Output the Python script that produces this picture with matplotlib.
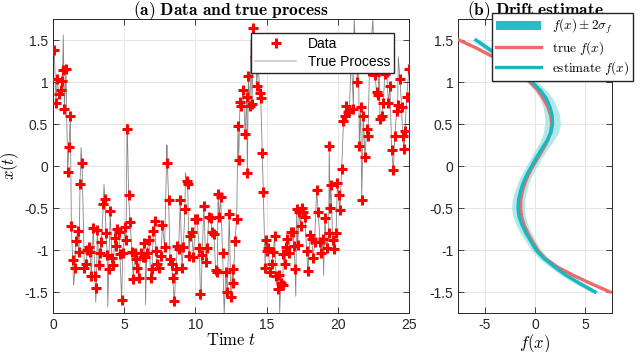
import matplotlib
matplotlib.use('Agg')
import numpy as np
import matplotlib.pyplot as plt
from matplotlib.patches import Patch
from matplotlib.lines import Line2D

# observed data (time, state)
data_t = [0.09, 0.21, 0.30, 0.40, 0.56, 0.63, 0.68, 0.80, 0.91, 1.03, 1.12, 1.22, 1.29, 1.38, 1.55,
          1.60, 1.76, 1.83, 1.90, 2.04, 2.20, 2.32, 2.41, 2.55, 2.60, 2.69, 2.83, 2.95, 3.05, 3.11,
          3.23, 3.30, 3.40, 3.54, 3.65, 3.72, 3.81, 3.91, 4.02, 4.14, 4.24, 4.33, 4.42, 4.52, 4.61,
          4.70, 4.82, 4.90, 5.06, 5.13, 5.22, 5.31, 5.41, 5.55, 5.64, 5.76, 5.83, 5.92, 6.04, 6.15,
          6.30, 6.39, 6.48, 6.58, 6.74, 6.86, 6.95, 7.05, 7.14, 7.24, 7.33, 7.42, 7.58, 7.68, 7.84,
          8.03, 8.12, 8.22, 8.33, 8.40, 8.52, 8.64, 8.73, 8.82, 8.94, 9.06, 9.15, 9.27, 9.39, 9.46,
          9.55, 9.62, 9.74, 9.86, 10.00, 10.10, 10.28, 10.35, 10.47, 10.60, 10.72, 10.84, 10.93, 11.07, 11.19,
          11.30, 11.42, 11.54, 11.59, 11.68, 11.77, 11.91, 12.15, 12.24, 12.38, 12.48, 12.62, 12.66, 12.78, 12.90,
          12.99, 13.04, 13.13, 13.23, 13.37, 13.49, 13.60, 13.65, 13.72, 13.84, 13.98, 14.07, 14.19, 14.30, 14.40,
          14.54, 14.59, 14.70, 14.77, 14.90, 14.94, 15.01, 15.12, 15.24, 15.36, 15.47, 15.57, 15.66, 15.78, 15.87,
          15.99, 16.13, 16.18, 16.29, 16.36, 16.46, 16.55, 16.70, 16.84, 16.93, 17.00, 17.11, 17.18, 17.30, 17.39,
          17.49, 17.58, 17.70, 17.81, 17.91, 18.05, 18.16, 18.28, 18.37, 18.51, 18.63, 18.75, 18.84, 18.98, 19.10,
          19.22, 19.36, 19.40, 19.45, 19.52, 19.64, 19.76, 19.88, 19.97, 20.06, 20.15, 20.27, 20.40, 20.51, 20.58,
          20.70, 20.81, 21.10, 21.37, 21.51, 21.61, 21.68, 21.79, 21.91, 22.03, 22.12, 22.22, 22.61, 22.73, 22.85,
          22.96, 23.08, 23.20, 23.30, 23.44, 23.55, 23.67, 23.78, 23.90, 24.00, 24.14, 24.20, 24.37, 24.48, 24.55,
          24.65, 24.72, 24.84, 25.00]
data_x = [1.38, 0.75, 1.04, 0.86, 0.90, 1.01, 1.14, 0.68, 1.16, -0.07, 0.23, 0.59, -0.72, -1.12, -1.21,
          -0.89, -0.77, -1.02, -0.21, 0.04, -1.21, -1.17, -1.00, -0.97, -1.02, -1.31, -0.74, -1.31, -1.45, -0.76,
          -1.18, -1.03, -0.90, -0.45, -0.39, -0.80, -1.06, -1.23, -0.54, -1.10, -1.18, -0.86, -0.95, -0.75, -0.79,
          -1.05, -1.60, -1.03, -0.73, -0.88, 0.44, -0.35, -0.67, -1.02, -1.34, -1.03, -1.11, -1.22, -1.33, -1.03,
          -1.08, -0.92, -1.08, -1.04, -0.88, -1.33, -1.23, -0.77, -0.66, -1.01, -1.17, -1.22, -1.07, -0.70, -0.97,
          0.04, -0.40, -1.11, -1.17, -1.33, -1.61, -1.23, -0.95, -0.99, -0.41, -1.22, -0.97, -0.51, -0.18, -0.21,
          -1.07, -0.83, -0.79, -1.08, -0.63, -0.63, -0.98, -1.52, -1.06, -0.48, -1.14, -0.98, -0.61, -0.62, -0.79,
          -0.81, -1.24, -1.26, -0.33, -0.61, -0.37, -1.03, -1.26, -1.50, -0.57, -1.56, -1.23, -1.39, -0.89, -0.63,
          0.48, 0.07, 0.76, 0.71, 0.91, 0.38, 0.82, -0.08, 1.07, 0.72, 0.74, 1.64, 1.30, 0.95, 1.20,
          0.87, 0.81, 0.15, -0.31, -1.22, -0.88, -1.01, -0.98, -1.26, -1.17, -1.02, -0.83, -1.31, -1.47, -1.30,
          -1.39, -1.42, -1.05, -1.17, -0.97, -0.87, -1.03, -0.79, -0.78, -0.95, -1.23, -0.51, -0.94, -0.55, -0.71,
          -0.50, -0.55, -0.61, -1.01, -1.25, -0.82, -0.87, -1.10, -0.90, -0.29, -0.55, -0.90, -1.04, -0.87, -0.62,
          -0.98, -0.80, 0.24, -0.50, -0.23, -0.88, -0.99, -0.80, -0.20, -0.35, -0.52, -0.04, 0.54, 0.60, 0.72,
          0.64, 0.66, 0.68, 1.00, 0.24, 0.70, -0.40, 0.60, 0.11, 0.44, 0.36, 1.13, 1.08, 0.88, 0.84,
          0.56, 0.60, 0.75, 1.10, 1.12, 0.75, 0.95, 0.19, -0.05, 0.36, 0.66, 0.73, 1.03, 0.70, 0.36,
          0.20, 0.42, 0.82, 1.16]

# extra excursions of the true process between observations
peak_t = [0.72, 1.45, 1.97, 3.00, 3.58, 3.85, 5.20, 6.50, 8.00, 9.30, 10.40, 12.02, 13.90, 14.25,
          15.92, 17.05, 19.00, 20.95, 21.15, 21.45, 22.46, 22.90, 23.35, 24.25]
peak_x = [1.56, -1.42, 0.22, -1.62, -0.22, -1.68, 0.50, -1.65, 0.25, -0.08, -1.60, -1.75, 1.50, 1.58,
          -1.75, -1.55, -1.30, 1.30, 1.75, 1.45, 1.75, 1.40, 1.45, 1.30]

# drift function, read at these states
grid_x = [1.5, 1.4, 1.3, 1.2, 1.1, 1.0, 0.9, 0.8, 0.7, 0.6, 0.5, 0.4, 0.3, 0.2, 0.1, 0.0,
          -0.1, -0.2, -0.3, -0.4, -0.5, -0.6, -0.7, -0.8, -0.9, -1.0, -1.1, -1.2, -1.3, -1.4, -1.5]
true_f = [-7.6, -5.8, -4.2, -2.8, -1.6, -0.5, 0.3, 0.85, 1.3, 1.58, 1.67, 1.55, 1.25, 0.8, 0.3, -0.2,
          -0.65, -1.0, -1.27, -1.42, -1.45, -1.35, -1.1, -0.72, -0.25, 0.25, 1.0, 2.2, 3.8, 5.6, 7.5]
est_f = [-5.9, -4.7, -3.5, -2.4, -1.35, -0.3, 0.55, 1.15, 1.5, 1.72, 1.75, 1.6, 1.2, 0.65, 0.15, -0.33,
         -0.8, -1.18, -1.45, -1.65, -1.7, -1.6, -1.3, -0.9, -0.4, 0.1, 0.9, 1.95, 3.1, 4.5, 6.0]
two_sigma = [0.45, 0.5, 0.5, 0.5, 0.5, 0.55, 0.6, 0.65, 0.7, 0.75, 0.8, 0.75, 0.65, 0.6, 0.55, 0.55,
             0.55, 0.55, 0.6, 0.62, 0.65, 0.62, 0.6, 0.55, 0.5, 0.5, 0.5, 0.5, 0.5, 0.5, 0.45]

plt.rcParams['font.family'] = ['Liberation Sans', 'DejaVu Sans']
plt.rcParams['mathtext.fontset'] = 'cm'
plt.rcParams['axes.unicode_minus'] = False


def style_axes(ax):
    ax.tick_params(direction='in', top=True, right=True, length=4, width=0.6,
                   labelsize=10, colors='#262626')
    ax.grid(True, color='#e2e2e2', linewidth=0.6)
    ax.set_axisbelow(True)
    for s in ax.spines.values():
        s.set_color('#262626')
        s.set_linewidth(0.7)


fig = plt.figure(figsize=(6.4, 3.52), dpi=100)
ax1 = fig.add_axes([53 / 640, 39 / 352, 356 / 640, 294 / 352])
ax2 = fig.add_axes([458 / 640, 39 / 352, 154 / 640, 294 / 352])

# (a) data and true process
proc = sorted(zip(data_t + peak_t, data_x + peak_x))
proc_t = [p[0] for p in proc]
proc_x = [p[1] for p in proc]
ax1.plot(proc_t, proc_x, color='0.2', alpha=0.6, lw=0.6, zorder=2)
ax1.plot(data_t, data_x, ls='none', marker='+', ms=7, mew=2.2, color='#ff0000', zorder=3)
ax1.set_xlim(0, 25)
ax1.set_ylim(-1.75, 1.75)
ax1.set_xticks([0, 5, 10, 15, 20, 25])
ax1.set_yticks([-1.5, -1, -0.5, 0, 0.5, 1, 1.5])
ax1.set_yticklabels(['-1.5', '-1', '-0.5', '0', '0.5', '1', '1.5'])
style_axes(ax1)
ax1.set_xlabel(r'$\mathrm{Time}\ t$', fontsize=12, labelpad=0)
ax1.set_ylabel(r'$x(t)$', fontsize=12, labelpad=2)
ax1.set_title(r'$\mathbf{(a)\ Data\ and\ true\ process}$', fontsize=12.5, pad=3)
h1 = [Line2D([], [], ls='none', marker='+', ms=7, mew=2.2, color='#ff0000'),
      Line2D([], [], color='#c8c8c8', lw=1.2)]
ax1.legend(h1, ['Data', 'True Process'], loc='upper right', bbox_to_anchor=(0.958, 0.952),
           borderaxespad=0, fontsize=10, handlelength=3.0, fancybox=False, framealpha=1,
           edgecolor='#262626', borderpad=0.3, labelspacing=0.25)

# (b) drift estimate
lo = np.array(est_f) - np.array(two_sigma)
hi = np.array(est_f) + np.array(two_sigma)
ax2.fill_betweenx(grid_x, lo, hi, color='#9fe3e3', alpha=0.8, lw=0, zorder=2)
ax2.plot(true_f, grid_x, color='#f26868', lw=2.4, zorder=3)
ax2.plot(est_f, grid_x, color='#16b9c0', lw=2.4, zorder=4)
ax2.set_xlim(-7.7, 7.7)
ax2.set_ylim(-1.75, 1.75)
ax2.set_xticks([-5, 0, 5])
ax2.set_yticks([-1.5, -1, -0.5, 0, 0.5, 1, 1.5])
ax2.set_yticklabels(['-1.5', '-1', '-0.5', '0', '0.5', '1', '1.5'])
style_axes(ax2)
ax2.set_xlabel(r'$f(x)$', fontsize=12, labelpad=0)
ax2.set_title(r'$\mathbf{(b)\ Drift\ estimate}$', fontsize=12.5, pad=3)
h2 = [Patch(facecolor='#20c0c4', edgecolor='none'),
      Line2D([], [], color='#f26868', lw=2.4),
      Line2D([], [], color='#16b9c0', lw=2.4)]
ax2.legend(h2, [r'$f(x)\pm2\sigma_f$', r'$\mathrm{true}\ f(x)$', r'$\mathrm{estimate}\ f(x)$'],
           loc='upper right', bbox_to_anchor=(633 / 640, 1 - 13 / 352), bbox_transform=fig.transFigure,
           borderaxespad=0, fontsize=9.5, handlelength=3.4, fancybox=False, framealpha=1,
           edgecolor='#262626', borderpad=0.3, labelspacing=0.2)

fig.savefig('out.png', dpi=100)
